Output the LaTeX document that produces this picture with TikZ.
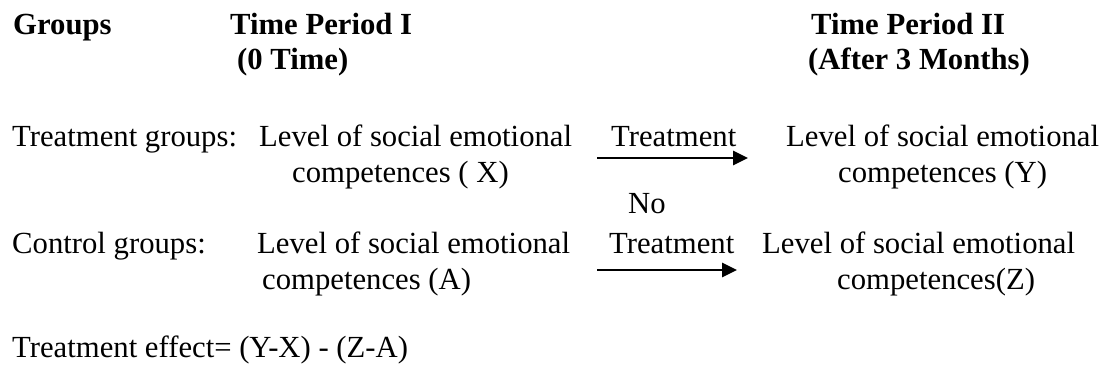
\documentclass[tikz,border=0pt]{standalone}
\usepackage{fontspec}
\setmainfont{Liberation Serif}
\usetikzlibrary{arrows.meta,positioning}

\begin{document}
\begin{tikzpicture}[x=1pt,y=-1pt,>={Triangle[length=15pt,width=14pt]},
  txt/.style={anchor=base west,inner sep=0pt,font=\fontsize{30.7}{35}\selectfont},
  head/.style={txt,font=\fontsize{30.7}{35}\selectfont\bfseries},
  flow/.style={->,line width=2.6pt}]
  \useasboundingbox (0,0) rectangle (1113,374);
  % column headings
  \node[head] (grp)   at (13,35)  {Groups};
  \node[head] (tpI)   at (230,35) {Time Period I};
  \node[head] (tpIb)  at (237,70) {(0 Time)};
  \node[head] (tpII)  at (811,35) {Time Period II};
  \node[head] (tpIIb) at (808,70) {(After 3 Months)};
  % treatment row
  \node[txt] (trtgrp) at (12,147)  {Treatment groups:};
  \node[txt] (trtXa)  at (259,147) {Level of social emotional};
  \node[txt] (trtXb)  at (292,183) {competences ( X)};
  \node[txt] (trtlbl) at (611,147) {Treatment};
  \node[txt] (trtYa)  at (786,147) {Level of social emotional};
  \node[txt] (trtYb)  at (838,183) {competences (Y)};
  \coordinate (arA) at (597,158);
  \coordinate (arB) at (748,158);
  \draw[flow] (arA) -- (arB);
  % control row
  \node[txt] (nolbl)  at (628,213) {No};
  \node[txt] (ctlgrp) at (12,253)  {Control groups:};
  \node[txt] (ctlAa)  at (257,253) {Level of social emotional};
  \node[txt] (ctlAb)  at (262,289) {competences (A)};
  \node[txt] (ctllbl) at (609,253) {Treatment};
  \node[txt] (ctlZa)  at (762,253) {Level of social emotional};
  \node[txt] (ctlZb)  at (837,289) {competences(Z)};
  \coordinate (arC) at (597,270);
  \coordinate (arD) at (737,270);
  \draw[flow] (arC) -- (arD);
  % effect
  \node[txt] (effect) at (12,357) {Treatment effect= (Y-X) - (Z-A)};
\end{tikzpicture}
\end{document}
